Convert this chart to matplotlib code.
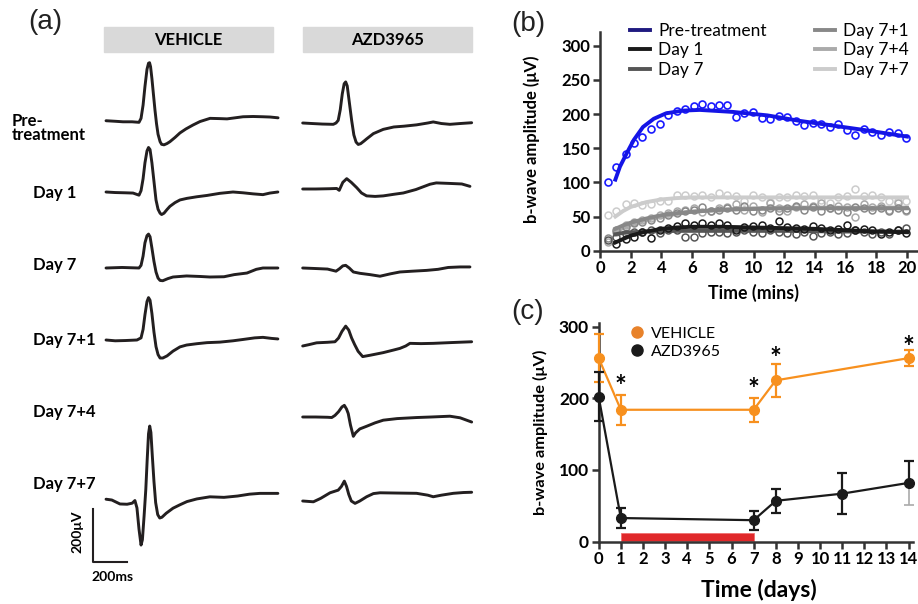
import numpy as np
import matplotlib
matplotlib.use("Agg")
import matplotlib.pyplot as plt
from matplotlib.lines import Line2D
from matplotlib.patches import Rectangle

plt.rcParams['font.family'] = ['Lato', 'DejaVu Sans']

W, H = 918, 604

# ---------------- panel (a): ERG traces, (time ms, amplitude uV) ----------------
veh_pre_t = [6, 59, 106, 159, 200, 212, 224, 235, 247, 256, 262, 268, 276, 285, 294, 303,
             312, 324, 333, 347, 365, 382, 412, 441, 476, 518, 559, 618, 676, 718, 765,
             812, 871, 929, 971, 1018]
veh_pre_v = [1, -1, -3, -3, -5, 10, 60, 130, 195, 218, 220, 205, 160, 100, 41, -10,
             -50, -78, -88, -90, -85, -78, -62, -45, -30, -15, -2, 10, 9, 8, 12,
             16, 17, 16, 15, 12]
veh_d1_t = [6, 59, 118, 165, 200, 212, 224, 235, 247, 256, 265, 276, 288, 300, 312, 324,
            333, 347, 365, 382, 412, 441, 482, 540, 600, 676, 753, 812, 871, 929, 970, 1017]
veh_d1_v = [0, -2, -3, -4, -12, 5, 50, 110, 155, 168, 160, 110, 40, -30, -65, -80,
            -85, -80, -66, -54, -40, -30, -24, -18, -13, -5, 0, -3, -7, -10, -4, 0]
veh_d7_t = [6, 100, 200, 212, 224, 235, 247, 256, 265, 276, 288, 300, 312, 324, 340, 370,
            400, 480, 560, 617, 700, 760, 835, 890, 929, 1017]
veh_d7_v = [0, 2, 0, 10, 45, 95, 122, 128, 118, 75, 25, -15, -38, -47, -48, -40,
            -34, -30, -32, -34, -33, -25, -19, -5, 0, 0]
veh_d71_t = [6, 60, 120, 188, 212, 224, 235, 247, 256, 265, 276, 288, 300, 312, 324, 340,
             365, 400, 441, 480, 540, 600, 676, 753, 812, 880, 929, 980, 1017]
veh_d71_v = [0, -3, -2, 0, 8, 40, 95, 145, 160, 150, 100, 30, -25, -55, -68, -68,
             -60, -42, -26, -19, -14, -10, -8, -3, 2, 8, 10, 6, 4]
veh_d77_t = [6, 40, 88, 130, 160, 176, 188, 200, 212, 220, 230, 240, 248, 256, 263, 270,
             278, 288, 298, 310, 322, 335, 360, 400, 441, 482, 540, 617, 700, 780, 850,
             911, 1017]
veh_d77_v = [3, 0, -15, -16, -12, -2, -30, -110, -170, -150, -60, 40, 150, 250, 279, 255,
             170, 70, -10, -55, -68, -65, -50, -31, -18, -6, 4, 12, 10, 15, 22,
             25, 25]

azd_pre_t = [4, 60, 120, 184, 200, 213, 225, 237, 248, 257, 266, 278, 292, 305, 318, 331,
             345, 365, 380, 420, 478, 540, 600, 674, 740, 772, 820, 870, 930, 998]
azd_pre_v = [0, -2, -4, -5, 0, 10, 50, 110, 148, 155, 140, 80, 10, -45, -72, -81,
             -78, -68, -60, -40, -24, -15, -12, -7, 0, 4, -2, -5, -2, 1]
azd_d1_t = [4, 80, 160, 204, 219, 240, 263, 290, 322, 350, 380, 430, 478, 540, 596, 670,
            753, 790, 870, 940, 988]
azd_d1_v = [0, 0, 1, 2, -5, 25, 39, 25, 5, -15, -26, -28, -26, -20, -15, -2,
            18, 23, 21, 19, 10]
azd_d7_t = [4, 80, 150, 200, 220, 240, 257, 278, 302, 340, 400, 459, 520, 576, 650, 733,
            800, 860, 930, 988]
azd_d7_v = [0, -2, -4, -12, -3, 8, 10, 0, -15, -20, -25, -31, -22, -15, -12, -9,
            -5, 2, 4, 4]
azd_d71_t = [4, 40, 86, 150, 194, 215, 235, 257, 275, 292, 310, 330, 357, 400, 478, 540,
             576, 610, 635, 700, 772, 880, 998]
azd_d71_v = [0, 5, 12, 14, 16, 30, 55, 75, 60, 30, 5, -20, -40, -35, -25, -15,
             -9, 0, 10, 9, 10, 13, 16]
azd_d74_t = [4, 80, 150, 175, 194, 215, 235, 249, 262, 272, 285, 302, 315, 340, 380, 430,
             478, 560, 674, 760, 870, 930, 998]
azd_d74_v = [0, 0, -1, -2, 6, 20, 38, 44, 30, 13, -30, -73, -60, -45, -35, -22,
             -12, -6, -2, 0, 3, -3, -19]
azd_d77_t = [4, 67, 110, 165, 213, 232, 249, 262, 275, 290, 312, 340, 380, 420, 459, 560,
             674, 740, 772, 820, 890, 950, 998]
azd_d77_v = [0, -3, 10, 31, 41, 55, 75, 55, 25, 0, -9, 0, 16, 28, 31, 30,
             29, 22, 16, 22, 29, 32, 33]

row_names = ["Pre-\ntreatment", "Day 1", "Day 7", "Day 7+1", "Day 7+4", "Day 7+7"]
group_names = ["VEHICLE", "AZD3965"]

# ---------------- panel (b): b-wave vs time (mins) ----------------
t_min = [0.54, 1.04, 1.67, 2.21, 2.76, 3.32, 3.89, 4.43, 5.0, 5.54, 6.1, 6.67,
         7.21, 7.75, 8.29, 8.86, 9.4, 9.97, 10.53, 11.07, 11.64, 12.18, 12.75, 13.29,
         13.85, 14.4, 14.96, 15.5, 16.07, 16.61, 17.18, 17.72, 18.29, 18.85, 19.39, 19.95]
pre_pts = [100, 123, 141, 158, 167, 178, 186, 199, 204, 207, 211, 215, 212, 213, 213, 196,
           201, 203, 194, 192, 197, 196, 190, 184, 187, 185, 181, 185, 176, 170, 178, 173,
           170, 173, 172, 165]
d1_pts = [np.nan, 10, 17, 20, 28, 18, 31, 33, 36, 40, 37, 41, 38, 40, 37, 30, 34, 36,
          38, 33, 44, 35, 33, 32, 36, 33, 30, 32, 37, 30, 32, 31, 25, 27, 30, 26]
d7_pts = [15, 20, 24, 28, 28, 30, 26, 30, 30, 20, 20, 26, 28, 28, 26, 28, 30, 28,
          26, 30, 28, 26, 25, 27, 22, 26, 28, 24, 26, 30, 28, 25, 27, 24, 30, 33]
d71_pts = [18, 30, 34, 40, 42, 45, 48, 52, 55, 58, 60, 64, 58, 60, 62, 60, 65, 58,
           60, 62, 58, 62, 66, 60, 64, 58, 62, 60, 56, 64, 62, 60, 62, 58, 62, 60]
d74_pts = [12, 28, 38, 42, 45, 48, 52, 55, 58, 60, 62, 56, 58, 62, 64, 68, 60, 66,
           56, 70, 62, 58, 64, 68, 66, 70, 62, 66, 64, 50, 68, 64, 66, 60, 70, 58]
d77_pts = [52, 58, 68, 70, 67, 68, 72, 72, 81, 81, 80, 82, 79, 85, 82, 80, 73, 81,
           79, 71, 78, 78, 82, 80, 81, 74, 70, 78, 80, 91, 80, 81, 79, 72, 73, 72]

pre_fit_t = [1.0, 1.3, 1.75, 2.2, 2.8, 3.5, 4.3, 5.4, 6.5, 8.7, 10.9, 13.0, 15.2, 17.4, 20.0]
pre_fit = [104, 123, 143, 162, 181, 193, 201, 205, 206, 203, 198, 190, 183, 176, 167]
fit_t = [1, 1.5, 2, 3, 4, 5, 6, 8, 10, 12, 14, 16, 18, 20]
d1_fit = [12, 17, 22, 28, 32, 34, 35, 35, 34, 33, 32, 30, 28, 27]
d7_fit = [24, 26, 27, 28, 28.5, 29, 29, 29, 29, 29, 28.5, 28, 28, 28]
d71_fit = [32, 37, 41, 47, 52, 55, 57, 60, 61, 62, 62, 62, 62, 62]
d74_fit = [28, 33, 38, 45, 50, 54, 57, 60, 62, 63, 63, 63, 63, 63]
d77_fit = [50, 58, 64, 71, 75, 77, 78, 78, 78, 78, 78, 78, 78, 78]

# ---------------- panel (c): b-wave vs days ----------------
veh_days = [0, 1, 7, 8, 14]
veh_mean = [256, 184, 184, 225, 256]
veh_sem = [33, 21, 17, 23, 11]
azd_days = [0, 1, 7, 8, 11, 14]
azd_mean = [202, 33, 30, 57, 67, 82]
azd_sem = [34, 13.5, 13, 17, 29, 31]
star_days = [1, 7, 8, 14]
star_y = [198, 193, 236, 252]
dosing = (1, 7)

fig = plt.figure(figsize=(W / 100, H / 100), dpi=100)


def fx(x):
    return x / W


def fy(y):
    return 1 - y / H


# panel letters
for lab, (x, y) in zip(["(a)", "(b)", "(c)"], [(45, 22), (528, 24), (528, 312)]):
    fig.text(fx(x), fy(y), lab, fontsize=20, family='Liberation Sans',
             ha='center', va='center', color='#222222')

# ---- (a)
MS_PX = 200 / 34
UV_PX = 200 / 53
axa = fig.add_axes([0, 0, 490 / W, 1])
axa.set_xlim(-105 * MS_PX, 385 * MS_PX)
axa.set_ylim(0, H * UV_PX)
axa.axis('off')

veh_traces = [(veh_pre_t, veh_pre_v), (veh_d1_t, veh_d1_v), (veh_d7_t, veh_d7_v),
              (veh_d71_t, veh_d71_v), None, (veh_d77_t, veh_d77_v)]
azd_traces = [(azd_pre_t, azd_pre_v), (azd_d1_t, azd_d1_v), (azd_d7_t, azd_d7_v),
              (azd_d71_t, azd_d71_v), (azd_d74_t, azd_d74_v), (azd_d77_t, azd_d77_v)]
veh_rows = [121, 192, 268, 340, 0, 500]
azd_rows = [123, 189, 268, 346, 417, 501]
azd_shift = (302 - 105) * MS_PX

for tr, r in zip(veh_traces, veh_rows):
    if tr is None:
        continue
    axa.plot(tr[0], np.array(tr[1]) + (H - r) * UV_PX, color='#231f20', lw=2.1,
             solid_joinstyle='round', solid_capstyle='round')
for tr, r in zip(azd_traces, azd_rows):
    axa.plot(np.array(tr[0]) + azd_shift, np.array(tr[1]) + (H - r) * UV_PX,
             color='#231f20', lw=2.1, solid_joinstyle='round', solid_capstyle='round')

# scale bar
x0, y0 = (93 - 105) * MS_PX, (H - 562) * UV_PX
axa.plot([x0, x0, x0 + 200], [y0 + 200, y0, y0], color='#231f20', lw=1.5)
fig.text(fx(77), fy(532), "200μV", rotation=90, fontsize=10, fontweight='bold',
         ha='center', va='center')
fig.text(fx(113), fy(577), "200ms", fontsize=10, fontweight='bold',
         ha='center', va='center')

# group headers
for name, (xa, xb) in zip(group_names, [(104, 273), (303, 472)]):
    fig.patches.append(Rectangle((fx(xa), fy(52)), fx(xb - xa), (52 - 27) / H,
                                 transform=fig.transFigure, color='#d9d9d9', zorder=0))
    fig.text(fx((xa + xb) / 2), fy(40), name, fontsize=12, fontweight='bold',
             ha='center', va='center')

for name, y in zip(row_names, [128, 193, 265, 340, 412, 484]):
    x = 12 if name.startswith("Pre") else 33
    fig.text(fx(x), fy(y), name, fontsize=12, fontweight='bold', ha='left',
             va='center', linespacing=0.85)


def style_axes(ax, size):
    for s in ['top', 'right']:
        ax.spines[s].set_visible(False)
    for s in ['left', 'bottom']:
        ax.spines[s].set_linewidth(1.8)
        ax.spines[s].set_color('#333333')
    ax.tick_params(width=1.8, length=5, color='#333333', labelsize=size, pad=2)
    for lab in ax.get_xticklabels() + ax.get_yticklabels():
        lab.set_fontweight('bold')


# ---- (b)
axb = fig.add_axes([fx(600), fy(250.7), (917 - 600) / W, 218.7 / H])
series = [(d77_pts, d77_fit, '#cccccc'), (d74_pts, d74_fit, '#aaaaaa'),
          (d71_pts, d71_fit, '#888888'), (d7_pts, d7_fit, '#555555'),
          (d1_pts, d1_fit, '#1a1a1a')]
for pts, fit, c in series:
    axb.plot(t_min, pts, 'o', mfc='none', mec=c, ms=5, mew=1.1, clip_on=False)
    axb.plot(fit_t, fit, '-', color=c, lw=2.8)
axb.plot(t_min, pre_pts, 'o', mfc='none', mec='#1a1aff', ms=5, mew=1.2, clip_on=False)
axb.plot(pre_fit_t, pre_fit, '-', color='#1414e6', lw=2.8)
axb.set_xlim(0, 20.65)
axb.set_ylim(0, 320)
axb.set_xticks(range(0, 21, 2))
axb.set_yticks(range(0, 301, 50))
style_axes(axb, 12)
axb.set_xlabel("Time (mins)", fontsize=12.8, fontweight='bold')
axb.set_ylabel("b-wave amplitude (μV)", fontsize=12, fontweight='bold')
axb.xaxis.set_label_coords(0.483, -0.15)
axb.yaxis.set_label_coords(-0.19, 0.51)
leg_names = ["Pre-treatment", "Day 1", "Day 7", "Day 7+1", "Day 7+4", "Day 7+7"]
leg_cols = ['#1f1a80', '#1a1a1a', '#555555', '#888888', '#aaaaaa', '#cccccc']
handles = [Line2D([], [], color=c, lw=2.8) for c in leg_cols]
axb.legend(handles, leg_names, ncol=2, frameon=False, loc='upper left',
           bbox_to_anchor=(0.05, 1.105), fontsize=12.5, handlelength=1.15,
           handletextpad=0.5, labelspacing=0.2, columnspacing=2.75, borderpad=0.3)

# ---- (c)
axc = fig.add_axes([fx(598.7), fy(541.7), 314.3 / W, 218.7 / H])
axc.bar((dosing[0] + dosing[1]) / 2, 11, width=dosing[1] - dosing[0], bottom=1.5,
        color='#e0282a', edgecolor='#f07070', lw=0.6, zorder=1)
orange = '#f7901e'
axc.errorbar(veh_days, veh_mean, yerr=veh_sem, color=orange, marker='o', ms=7,
             lw=1.6, elinewidth=1.6, capsize=3.5, capthick=1.6, clip_on=False,
             zorder=3)
azd_lo = list(azd_sem[:-1]) + [0]
axc.errorbar(azd_days, azd_mean, yerr=[azd_lo, azd_sem], color='#1a1a1a', marker='o',
             ms=7, lw=1.6, elinewidth=1.6, capsize=3.5, capthick=1.6, clip_on=False,
             zorder=4)
axc.errorbar(azd_days[-1:], azd_mean[-1:], yerr=[azd_sem[-1:], [0]], fmt='none',
             ecolor='#aaaaaa', elinewidth=1.2, capsize=3.5, capthick=1.2, zorder=2)
for d, y in zip(star_days, star_y):
    axc.text(d, y, "*", fontsize=20, fontweight='bold', ha='center', va='bottom')
axc.set_xlim(0, 14.2)
axc.set_ylim(0, 305)
axc.set_xticks(range(0, 15))
axc.set_yticks([0, 100, 200, 300])
style_axes(axc, 12)
for lab in axc.get_yticklabels():
    lab.set_fontsize(12.5)
axc.set_xlabel("Time (days)", fontsize=16.5, fontweight='bold')
axc.set_ylabel("b-wave amplitude (μV)", fontsize=11.8, fontweight='bold')
axc.xaxis.set_label_coords(0.51, -0.17)
axc.yaxis.set_label_coords(-0.16, 0.5)
c_handles = [Line2D([], [], ls='none', marker='o', ms=8, color=c)
             for c in ['#e8822a', '#1a1a1a']]
axc.legend(c_handles, ["VEHICLE", "AZD3965"], frameon=False, loc='upper left',
           bbox_to_anchor=(0.05, 1.05), fontsize=11.5, handletextpad=0.4,
           labelspacing=0.25, handlelength=1.0)

fig.savefig("out.png", dpi=100)
